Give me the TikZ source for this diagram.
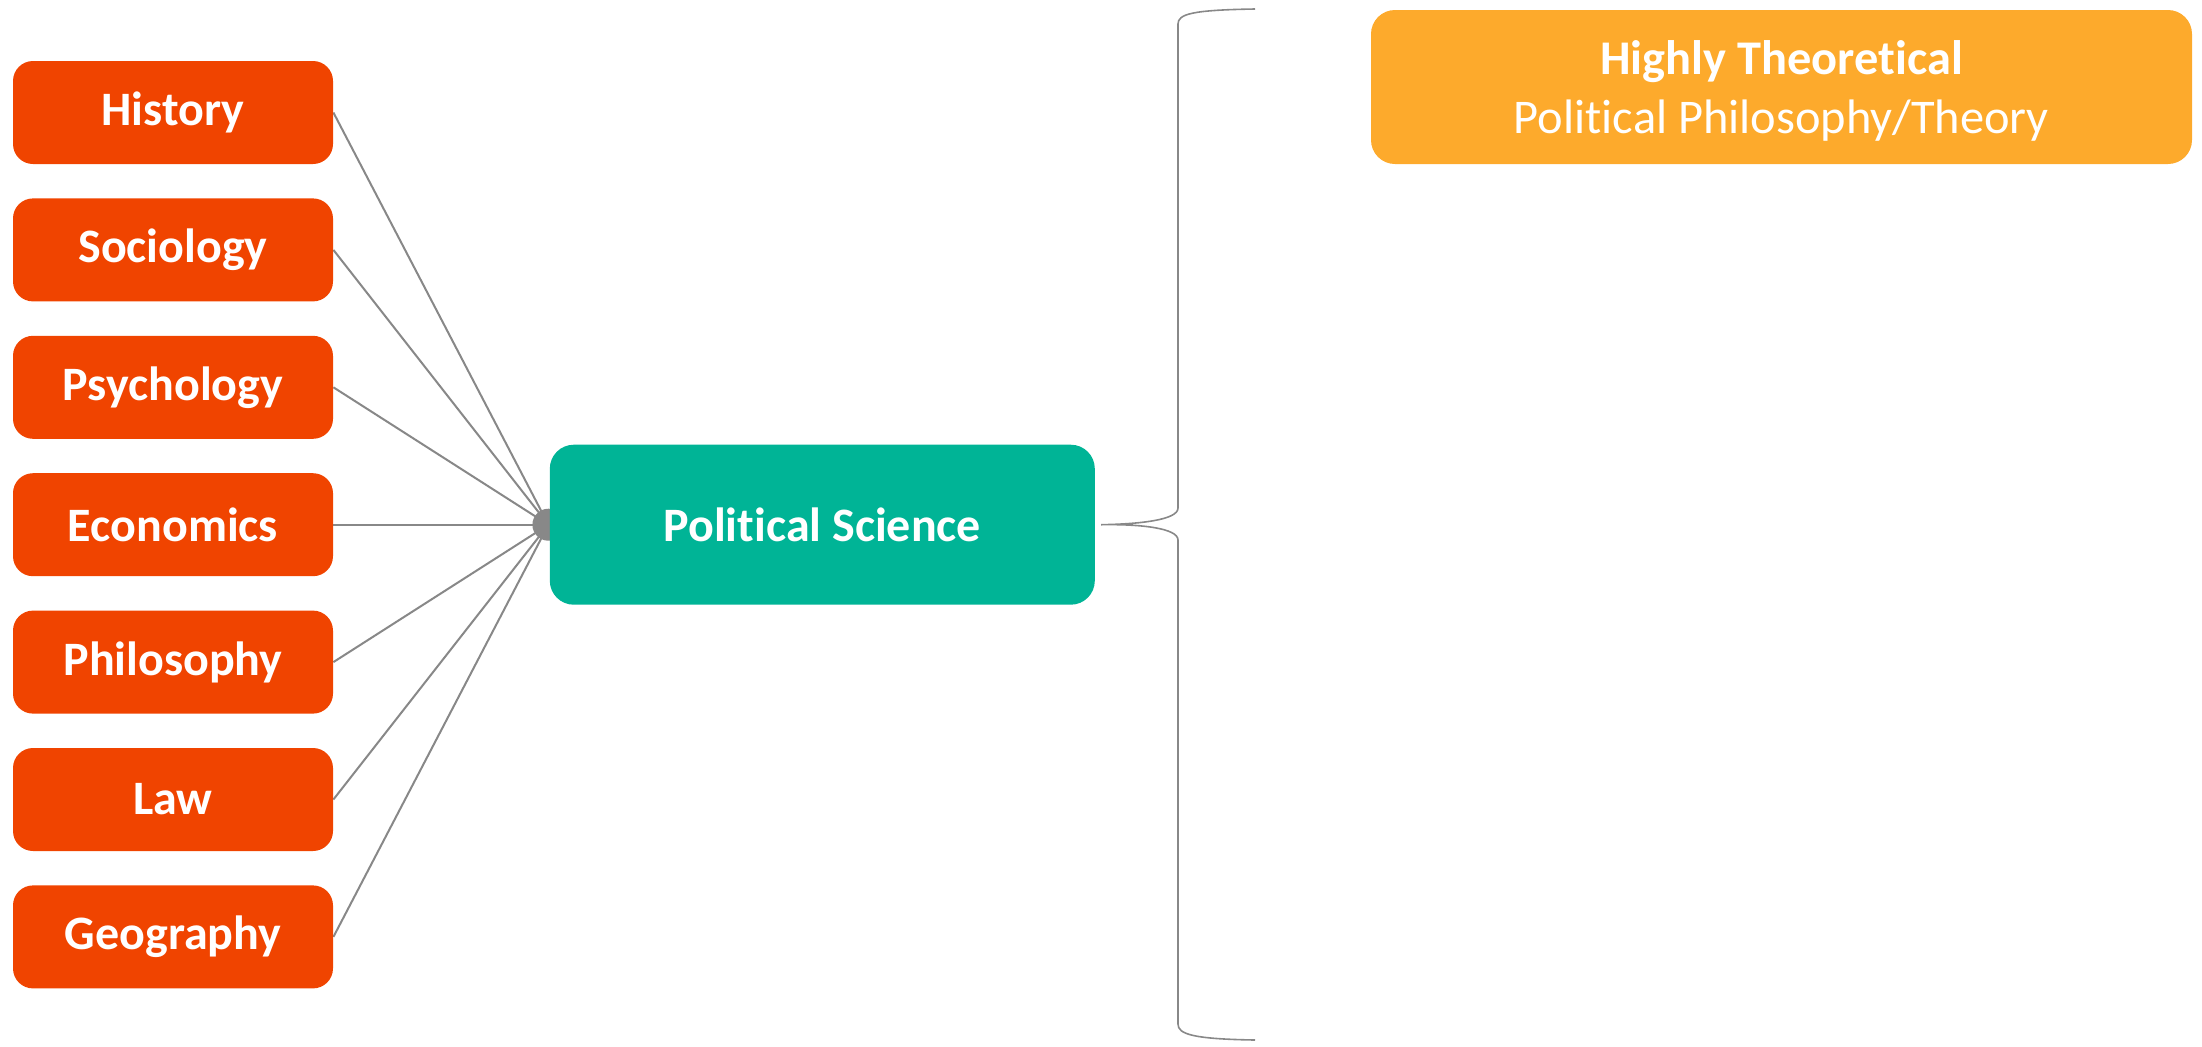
\documentclass[tikz,border=0pt]{standalone}
\usepackage{fontspec}
\setmainfont{Carlito}[RawFeature=-liga]
\usepackage{xcolor}
\usetikzlibrary{positioning,backgrounds}

\definecolor{discred}{RGB}{240,68,0}
\definecolor{mainteal}{RGB}{0,180,150}
\definecolor{toporange}{RGB}{253,170,44}
\definecolor{linegray}{RGB}{136,136,136}

\begin{document}
\begin{tikzpicture}[
      x=0.5pt, y=-0.5pt,
      box_disc/.style={
         rectangle,
         rounded corners=10pt,
         fill=discred,
         text=white,
         inner sep=0pt,
         minimum width=160pt,
         minimum height=51.5pt,
         font=\fontsize{24}{28}\selectfont\bfseries},
      box_main/.style={
         rectangle,
         rounded corners=12pt,
         fill=mainteal,
         text=white,
         inner sep=0pt,
         minimum width=272.5pt,
         minimum height=80pt,
         font=\fontsize{24}{28}\selectfont\bfseries},
      box_top/.style={
         rectangle,
         rounded corners=12pt,
         fill=toporange,
         text=white,
         align=center,
         inner sep=0pt,
         minimum width=410.5pt,
         minimum height=77pt,
         font=\fontsize{24.2}{29.5}\selectfont},
      line_gray/.style={
         draw=linegray,
         line width=1pt,
        },
      brace_gray/.style={
         draw=linegray,
         line width=0.8pt,
        }
]
      \useasboundingbox (0,0) rectangle (2202,1046);

      %disciplines
      \node[box_disc] (hist) at (173,112.5) {History};
      \node[box_disc,below=16.8pt of hist] (soc) {Sociology};
      \node[box_disc,below=16.8pt of soc] (psy) {Psychology};
      \node[box_disc,below=16.8pt of psy] (eco) {Economics};
      \node[box_disc,below=16.8pt of eco] (phil) {Philosophy};
      \node[box_disc,below=16.8pt of phil] (law) {Law};
      \node[box_disc,below=16.8pt of law] (geo) {Geography};

      %political science
      \node[box_main,right=108pt of eco] (pol) {Political Science};

      \begin{scope}[on background layer]
        \node[circle,fill=linegray,inner sep=0pt,minimum size=16pt] (hub) at ([xshift=-0.5pt]pol.west) {};
        \foreach \i in {hist,soc,psy,eco,phil,law,geo}% discipline to hub
          \draw [line_gray] (\i.east) -- (hub.center);
      \end{scope}

      %branch
      \node[box_top] (theo) at (1781.5,87) {\rule{0pt}{21pt}\textbf{Highly Theoretical}\\Political Philosophy/Theory};

      %brace
      \coordinate (tip) at ([xshift=3pt]pol.east);
      \coordinate (btop) at (1255,9);
      \coordinate (bbot) at (1255,1040);
      \draw [brace_gray] (btop) .. controls (1192,10) and (1178,14) .. (1178,24)
        -- (1178,508) .. controls (1178,520) and (1140,524) .. (tip)
        .. controls (1140,524) and (1178,528) .. (1178,540)
        -- (1178,1024) .. controls (1178,1034) and (1192,1039) .. (bbot);
\end{tikzpicture}
\end{document}
